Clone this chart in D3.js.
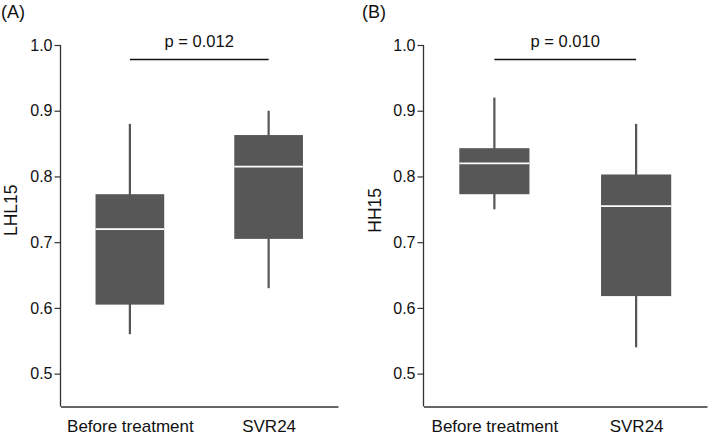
<!DOCTYPE html>
<html>
<head>
<meta charset="utf-8">
<script src="https://cdn.jsdelivr.net/npm/d3@7"></script>
<style>
  html, body { margin: 0; padding: 0; background: #fff; }
  svg { display: block; font-family: "Liberation Sans", Arial, sans-serif; }
</style>
</head>
<body>
<svg id="chart" width="709" height="437"></svg>
<script>
// ---- data ----
const categories = ["Before treatment", "SVR24"];
const panelLabels = ["(A)", "(B)"];
const yTitles = ["LHL15", "HH15"];
const pLabels = ["p = 0.012", "p = 0.010"];
const yTickValues = [0.5, 0.6, 0.7, 0.8, 0.9, 1.0];
const yDomain = [0.45, 1.0];
const sigLineValue = 0.978;

// box stats per category: [Before treatment, SVR24]
const lhl15Min    = [0.56, 0.63];
const lhl15Q1     = [0.605, 0.705];
const lhl15Median = [0.72, 0.815];
const lhl15Q3     = [0.773, 0.863];
const lhl15Max    = [0.88, 0.90];

const hh15Min    = [0.75, 0.54];
const hh15Q1     = [0.773, 0.618];
const hh15Median = [0.82, 0.755];
const hh15Q3     = [0.843, 0.803];
const hh15Max    = [0.92, 0.88];

// ---- build ----
const svg = d3.select("#chart");
const layout = [
  { left: 60.5, right: 338, titleX: 17, labelX: 1 },
  { left: 423.5, right: 707, titleX: 381, labelX: 362 }
];
const plotTop = 45, plotBottom = 406.5;

const statsSets = [
  { min: lhl15Min, q1: lhl15Q1, med: lhl15Median, q3: lhl15Q3, max: lhl15Max },
  { min: hh15Min, q1: hh15Q1, med: hh15Median, q3: hh15Q3, max: hh15Max }
];

const boxColor = "#575757";
const axisColor = "#333";

layout.forEach((L, pi) => {
  const st = statsSets[pi];
  const data = categories.map((c, i) => ({
    cat: c, min: st.min[i], q1: st.q1[i], med: st.med[i], q3: st.q3[i], max: st.max[i]
  }));

  const y = d3.scaleLinear().domain(yDomain).range([plotBottom, plotTop]);
  const x = d3.scalePoint().domain(categories).range([L.left, L.right]).padding(0.5);
  const bw = x.step() * 0.495;

  const g = svg.append("g");

  // y axis
  const yAxis = d3.axisLeft(y).tickValues(yTickValues).tickFormat(d3.format(".1f"))
    .tickSize(6).tickSizeOuter(0).tickPadding(2);
  const ya = g.append("g").attr("transform", `translate(${L.left},0)`).call(yAxis);
  ya.select(".domain").attr("stroke", axisColor).attr("stroke-width", 1.3)
    .attr("d", `M0,${y(1.0)}V${plotBottom}`);
  ya.selectAll(".tick line").attr("stroke", axisColor).attr("stroke-width", 1.2);
  ya.selectAll(".tick text").attr("fill", "#111").style("font-size", "16px")
    .style("font-family", "'Liberation Sans', Arial, sans-serif");

  // x axis
  const xAxis = d3.axisBottom(x).tickSize(0).tickSizeOuter(0).tickPadding(13);
  const xa = g.append("g").attr("transform", `translate(0,${plotBottom})`).call(xAxis);
  xa.select(".domain").attr("stroke", axisColor).attr("stroke-width", 1.3);
  xa.selectAll(".tick text").attr("fill", "#111").style("font-size", "17px")
    .style("font-family", "'Liberation Sans', Arial, sans-serif");

  // whiskers
  g.selectAll(".whisker").data(data).join("line")
    .attr("x1", d => x(d.cat)).attr("x2", d => x(d.cat))
    .attr("y1", d => y(d.max)).attr("y2", d => y(d.min))
    .attr("stroke", boxColor).attr("stroke-width", 2.2);

  // boxes
  g.selectAll(".box").data(data).join("rect")
    .attr("x", d => x(d.cat) - bw / 2)
    .attr("width", bw)
    .attr("y", d => y(d.q3))
    .attr("height", d => y(d.q1) - y(d.q3))
    .attr("fill", boxColor);

  // medians
  g.selectAll(".median").data(data).join("line")
    .attr("x1", d => x(d.cat) - bw / 2).attr("x2", d => x(d.cat) + bw / 2)
    .attr("y1", d => y(d.med)).attr("y2", d => y(d.med))
    .attr("stroke", "#fff").attr("stroke-width", 1.8);

  // significance bar
  g.append("line")
    .attr("x1", x(categories[0])).attr("x2", x(categories[1]))
    .attr("y1", y(sigLineValue)).attr("y2", y(sigLineValue))
    .attr("stroke", "#111").attr("stroke-width", 1.4);
  g.append("text")
    .attr("x", (x(categories[0]) + x(categories[1])) / 2)
    .attr("y", 47)
    .attr("text-anchor", "middle")
    .attr("fill", "#111")
    .style("font-size", "16.5px")
    .text(pLabels[pi]);

  // y title
  g.append("text")
    .attr("transform", `translate(${L.titleX},${(y(0.6) + y(0.9)) / 2 + 1}) rotate(-90)`)
    .attr("text-anchor", "middle")
    .attr("fill", "#111")
    .style("font-size", "17.5px")
    .text(yTitles[pi]);

  // panel label
  g.append("text")
    .attr("x", L.labelX).attr("y", 18)
    .attr("fill", "#111")
    .style("font-size", "18px")
    .text(panelLabels[pi]);
});
</script>
</body>
</html>
